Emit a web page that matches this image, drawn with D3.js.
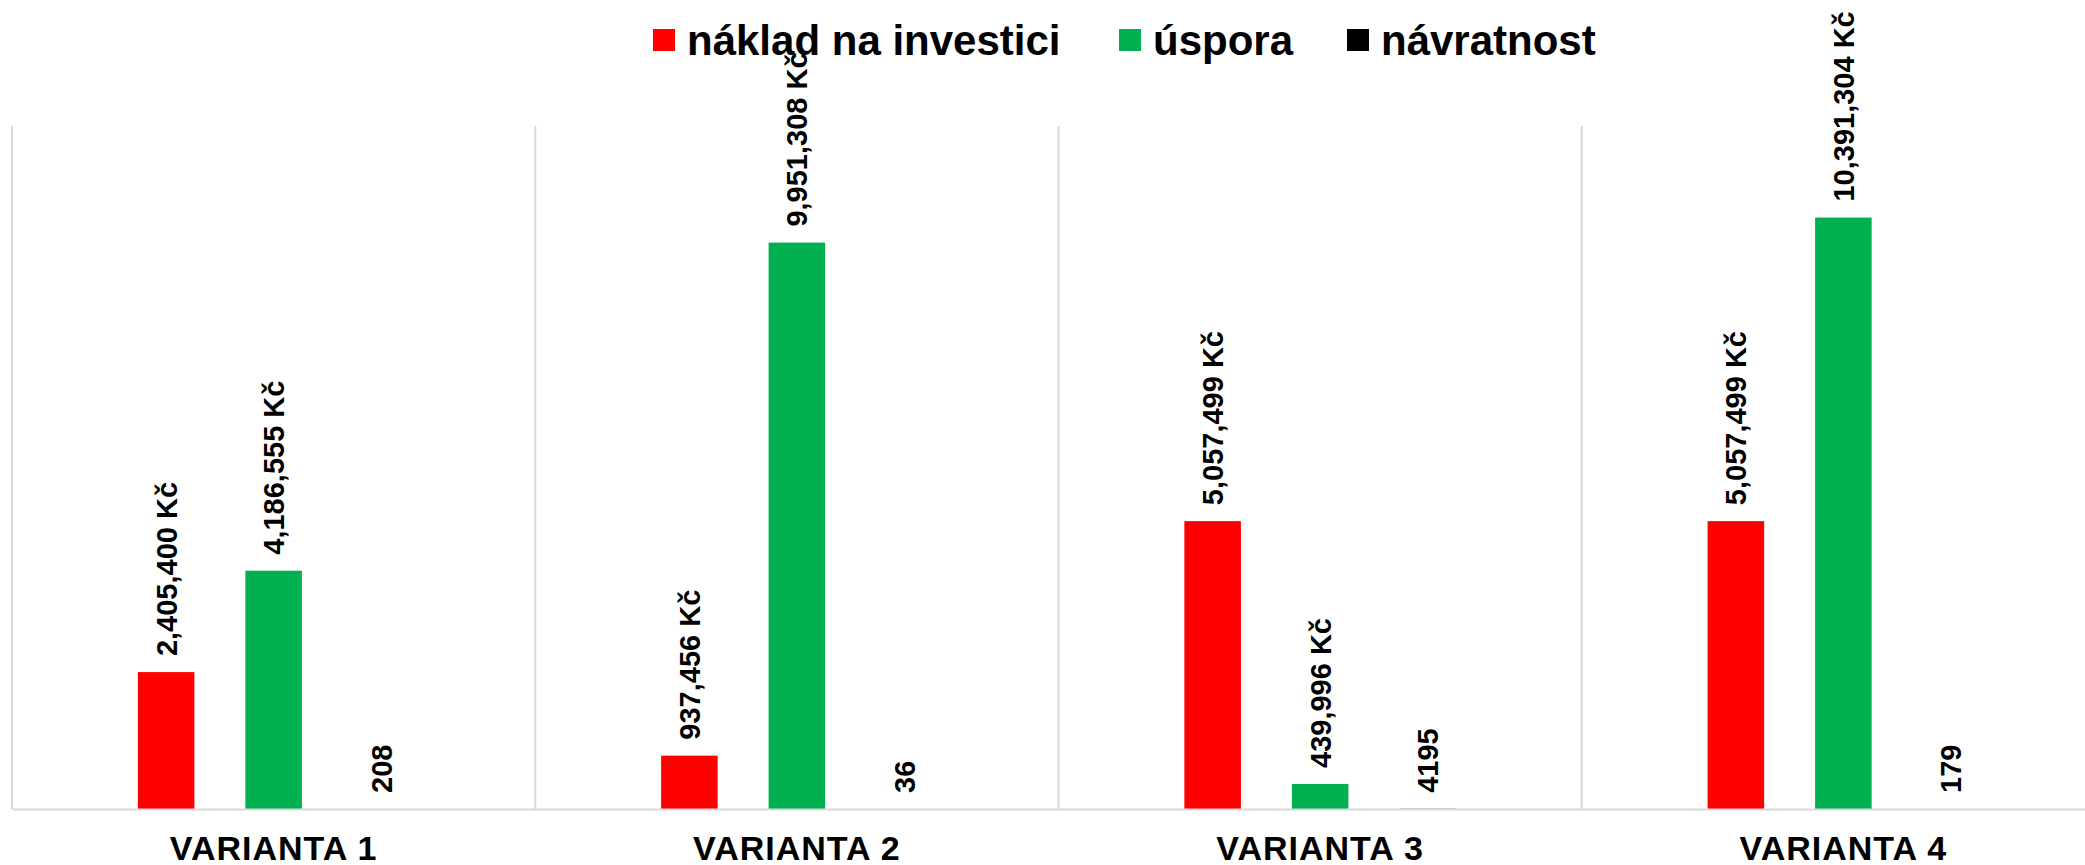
<!DOCTYPE html>
<html>
<head>
<meta charset="utf-8">
<script src="https://cdn.jsdelivr.net/npm/d3@7"></script>
<style>
  html, body { margin: 0; padding: 0; background: #ffffff; }
  svg { display: block; font-family: "Liberation Sans", Arial, sans-serif; }
</style>
</head>
<body>
<svg id="chart" width="2085" height="865"></svg>
<script>
// ---- data ----
const categories = ["VARIANTA 1", "VARIANTA 2", "VARIANTA 3", "VARIANTA 4"];
const seriesNames = ["náklad na investici", "úspora", "návratnost"];
const seriesColors = ["#FF0000", "#00B050", "#000000"];
const naklad = [2405400, 937456, 5057499, 5057499];
const uspora = [4186555, 9951308, 439996, 10391304];
const navratnost = [208, 36, 4195, 179];
const yMax = 12000000;

const seriesValues = [naklad, uspora, navratnost];
const moneyFmt = d3.format(",");
const labelFormats = [v => moneyFmt(v) + " Kč", v => moneyFmt(v) + " Kč", v => String(v)];

// ---- layout ----
const W = 2085, H = 865;
const plotLeft = 12, plotRight = 2105, plotTop = 126, plotBottom = 809;

const svg = d3.select("#chart");
svg.append("rect").attr("width", W).attr("height", H).attr("fill", "#ffffff");

const x0 = d3.scaleBand().domain(categories).range([plotLeft, plotRight]).padding(0);
const x1 = d3.scaleBand().domain(d3.range(seriesNames.length))
  .range([0, x0.bandwidth()]).paddingInner(0.474).paddingOuter(1.171);
const y = d3.scaleLinear().domain([0, yMax]).range([plotBottom, plotTop]);

// category divider gridlines
const boundaries = categories.map(c => x0(c));
svg.append("g").selectAll("line").data(boundaries).join("line")
  .attr("x1", d => d).attr("x2", d => d)
  .attr("y1", plotTop).attr("y2", plotBottom)
  .attr("stroke", "#d9d9d9").attr("stroke-width", 2);

// bars
const groups = svg.append("g").selectAll("g").data(categories).join("g")
  .attr("transform", c => `translate(${x0(c)},0)`);

groups.each(function(c, ci) {
  const g = d3.select(this);
  seriesValues.forEach((vals, si) => {
    const v = vals[ci];
    g.append("rect")
      .attr("x", x1(si)).attr("width", x1.bandwidth())
      .attr("y", y(v)).attr("height", y(0) - y(v))
      .attr("fill", seriesColors[si]);
    const cx = x1(si) + x1.bandwidth() / 2;
    const ly = y(v) - 16;
    g.append("text")
      .attr("transform", `translate(${cx},${ly}) rotate(-90)`)
      .attr("dy", "0.36em")
      .attr("text-anchor", "start")
      .attr("font-size", 29).attr("font-weight", "bold").attr("fill", "#000")
      .text(labelFormats[si](v));
  });
});

// x axis baseline
const xAxis = d3.axisBottom(x0).tickSize(0).tickPadding(0);
const axisG = svg.append("g").attr("transform", `translate(0,${plotBottom})`).call(xAxis);
axisG.select(".domain").attr("stroke", "#d9d9d9").attr("stroke-width", 2);
axisG.selectAll("text")
  .attr("y", 51).attr("dy", 0)
  .attr("font-size", 34).attr("font-weight", "bold")
  .attr("font-family", "'Liberation Sans', Arial, sans-serif")
  .attr("letter-spacing", "1px")
  .attr("fill", "#000");

// legend
const legendItems = [
  { x: 653, name: seriesNames[0], color: seriesColors[0] },
  { x: 1119, name: seriesNames[1], color: seriesColors[1] },
  { x: 1347, name: seriesNames[2], color: seriesColors[2] }
];
const lg = svg.append("g");
legendItems.forEach(it => {
  lg.append("rect").attr("x", it.x).attr("y", 29).attr("width", 22).attr("height", 22).attr("fill", it.color);
  lg.append("text").attr("x", it.x + 34).attr("y", 55)
    .attr("font-size", 42).attr("font-weight", "bold").attr("fill", "#000")
    .text(it.name);
});
</script>
</body>
</html>
